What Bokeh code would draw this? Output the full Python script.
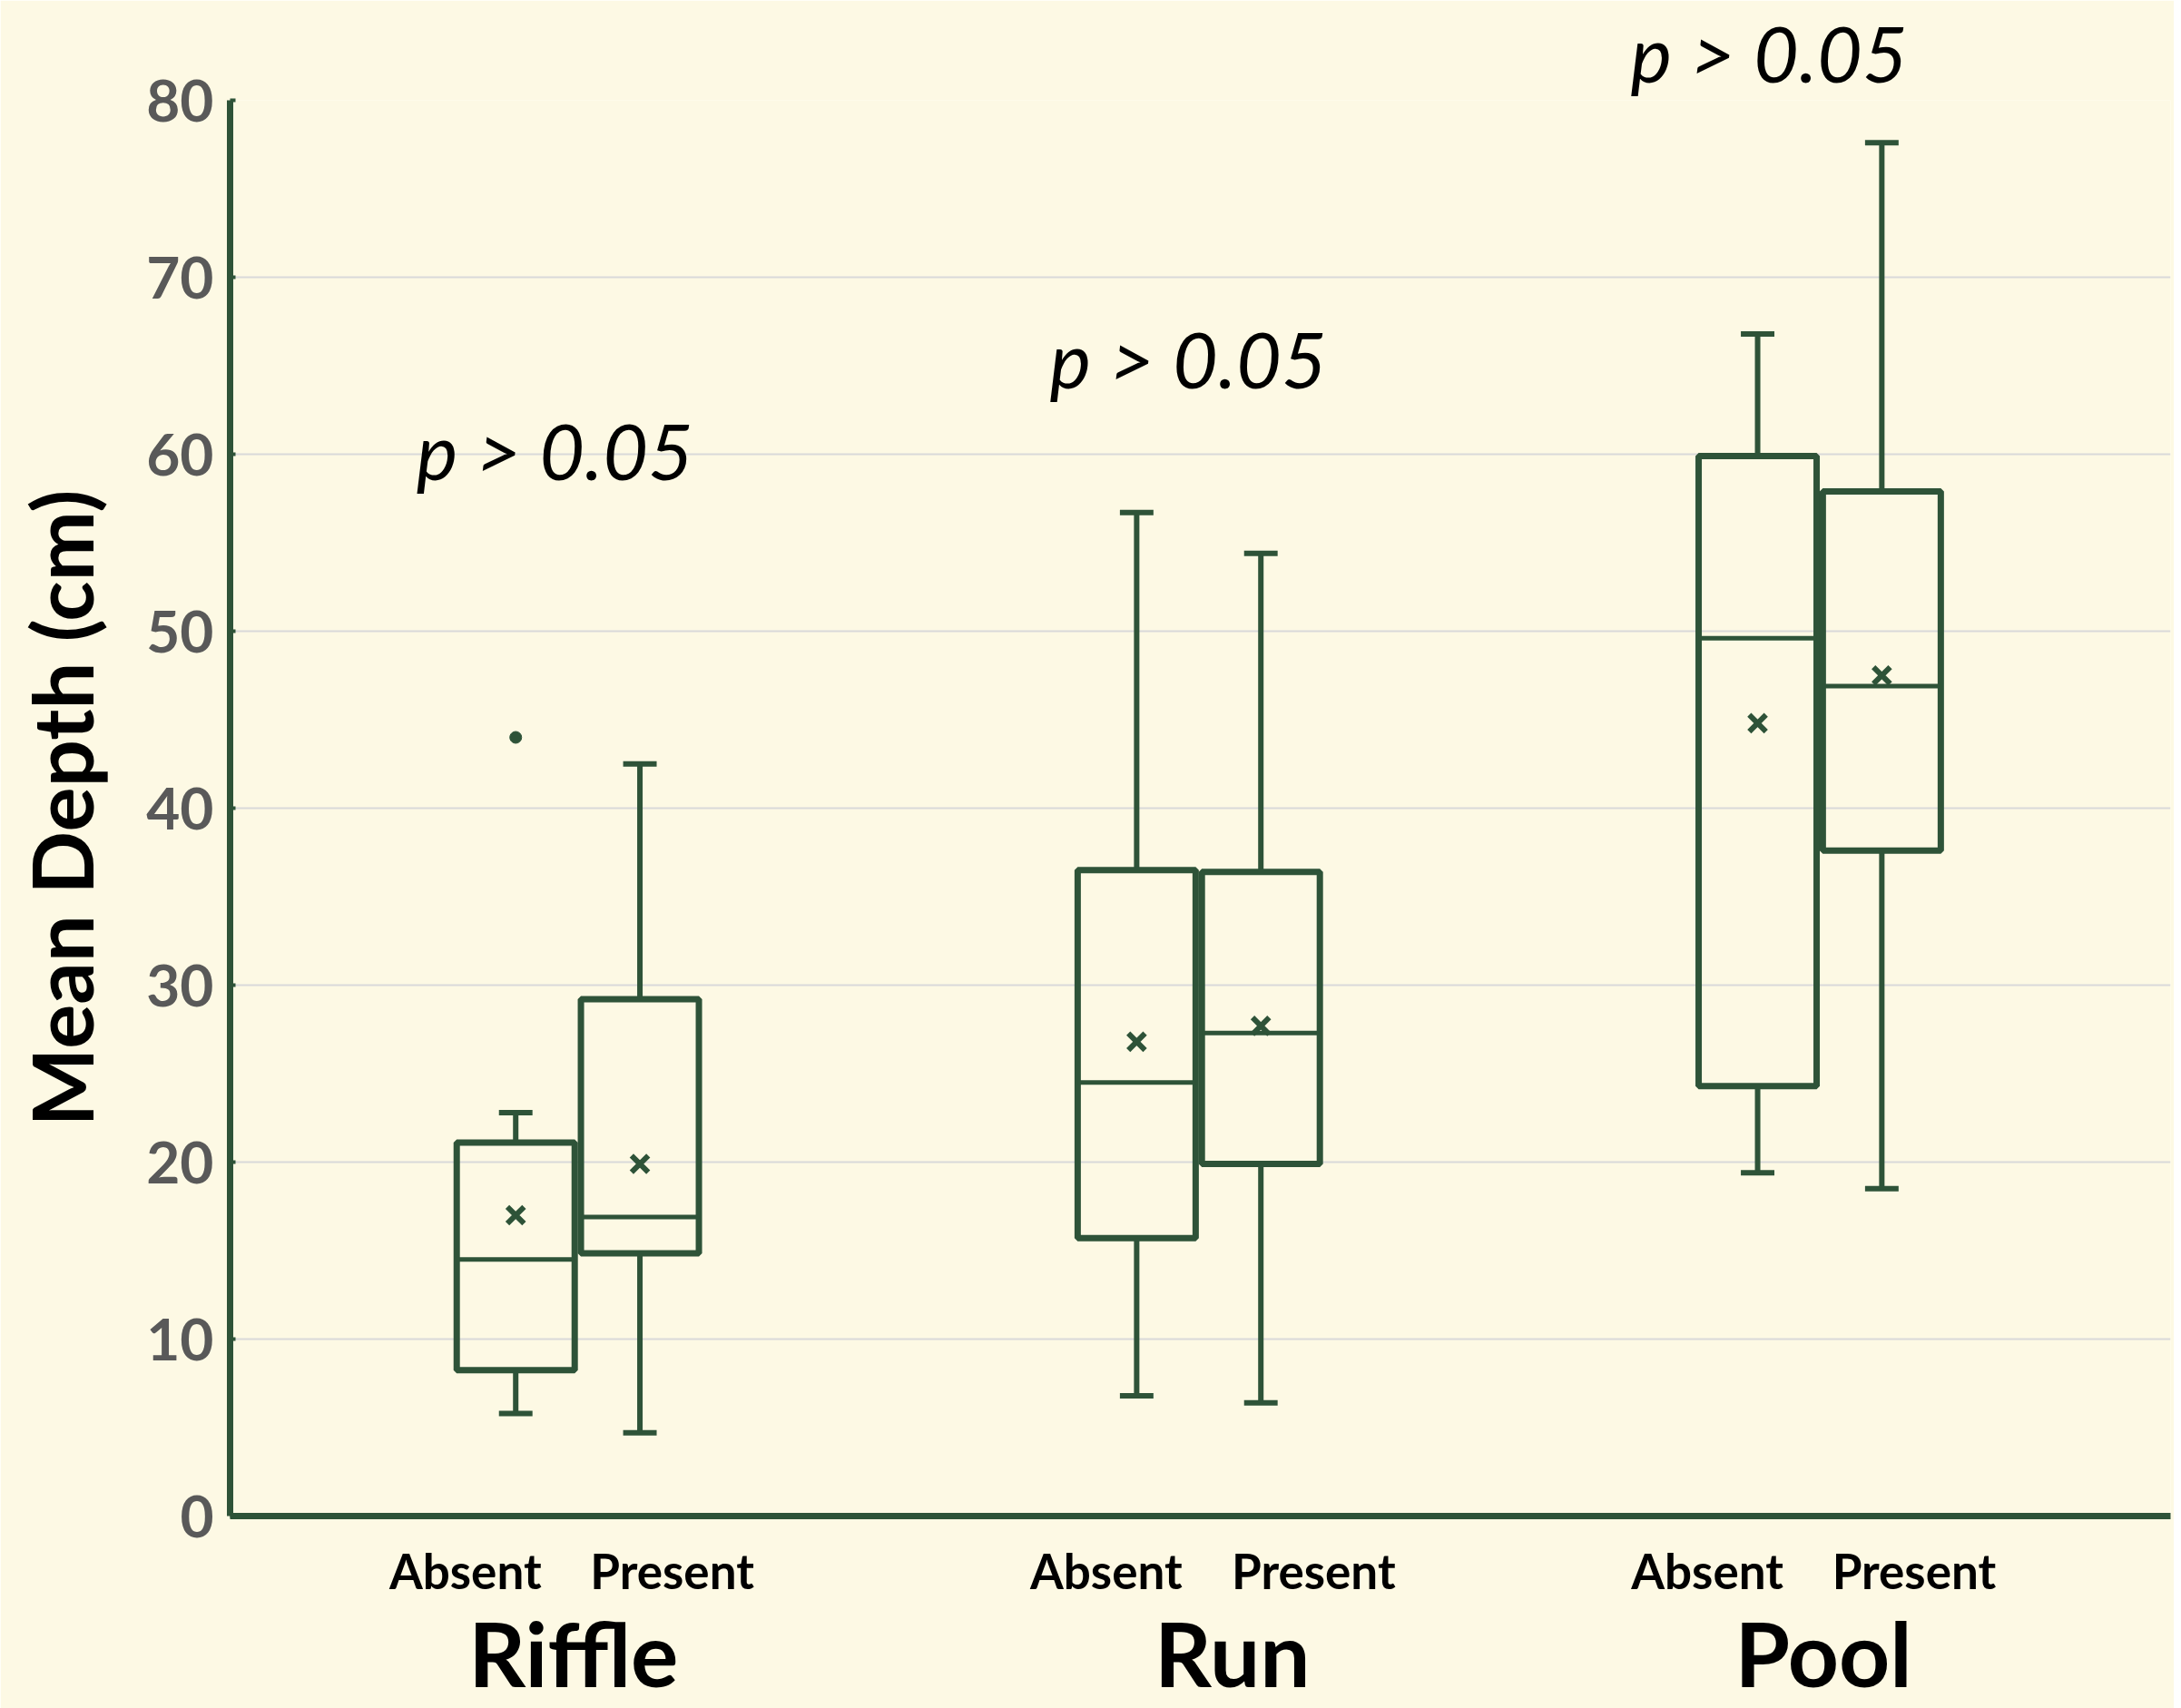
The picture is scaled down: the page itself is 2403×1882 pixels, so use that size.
from bokeh.plotting import figure
from bokeh.models import FixedTicker, LinearAxis, Range1d, Label, Title
from bokeh.embed import file_html
from bokeh.resources import INLINE

# ---- data ----
habitats = ["Riffle", "Run", "Pool"]
groups = ["Absent", "Present"]
lower_whisker = [5.8, 4.7, 6.8, 6.4, 19.4, 18.5]
q1 = [8.25, 14.85, 15.7, 19.9, 24.3, 37.6]
median = [14.5, 16.9, 24.5, 27.3, 49.6, 46.9]
q3 = [21.1, 29.2, 36.5, 36.4, 59.9, 57.9]
upper_whisker = [22.8, 42.5, 56.7, 54.4, 66.8, 77.6]
mean = [17.0, 19.9, 26.8, 27.7, 44.8, 47.5]
outlier_box = [0]          # index of box with an outlier
outlier_value = [44.0]
p_labels = ["p > 0.05", "p > 0.05", "p > 0.05"]
y_ticks = [0, 10, 20, 30, 40, 50, 60, 70, 80]

# ---- layout / annotation positions ----
GREEN = "#2E5338"
BG = "#FDF9E4"
offset = 0.1
box_w = 0.19
cap_w = 0.054
sub_label_pos = [-0.181, 0.152, 0.851, 1.185, 1.819, 2.152]
group_label_pos = [-0.007, 1.054, 2.006]
p_x = [-0.037, 0.983]
p_y = [60.25, 65.45]
pool_p_offset_px = 1543   # Pool p-value sits above the plotting area

xs = [h + s * offset for h in range(len(habitats)) for s in (-1, 1)]

p = figure(width=2395, height=1882, output_backend="svg", toolbar_location=None,
           x_range=Range1d(-0.56, 2.565), y_range=Range1d(0, 80),
           min_border_left=253, min_border_right=4, min_border_top=110, min_border_bottom=212,
           x_axis_location=None, y_axis_location=None)
p.background_fill_color = BG
p.border_fill_color = BG
p.outline_line_color = None
p.xgrid.visible = False

# p-value for Pool (above the plotting area)
p.add_layout(Title(text=p_labels[2], align="left", offset=pool_p_offset_px,
                   text_font="Lato", text_font_style="italic", text_font_size="86px",
                   text_color="black", standoff=3), "above")

# y axis
yax = LinearAxis(ticker=FixedTicker(ticks=y_ticks), bounds=(0, 80))
yax.axis_line_color = GREEN
yax.axis_line_width = 7
yax.major_tick_line_color = GREEN
yax.major_tick_line_width = 4
yax.major_tick_in = 6
yax.major_tick_out = 0
yax.minor_tick_line_color = None
yax.major_label_text_font = "Lato"
yax.major_label_text_font_style = "bold"
yax.major_label_text_font_size = "64px"
yax.major_label_text_color = "#595959"
yax.major_label_standoff = 18
yax.axis_label = "Mean Depth (cm)"
yax.axis_label_text_font = "Lato"
yax.axis_label_text_font_style = "bold"
yax.axis_label_text_font_size = "92px"
yax.axis_label_text_color = "black"
yax.axis_label_standoff = 35
p.add_layout(yax, "left")
p.ygrid.ticker = FixedTicker(ticks=y_ticks[1:])
p.ygrid.grid_line_color = "#D9D9D9"
p.ygrid.grid_line_width = 2

# x axis with Absent / Present labels
xax = LinearAxis(ticker=FixedTicker(ticks=sub_label_pos),
                 major_label_overrides={t: groups[i % 2] for i, t in enumerate(sub_label_pos)})
xax.axis_line_color = GREEN
xax.axis_line_width = 7
xax.major_tick_line_color = None
xax.minor_tick_line_color = None
xax.major_label_text_font = "Lato"
xax.major_label_text_font_style = "bold"
xax.major_label_text_font_size = "53px"
xax.major_label_text_color = "black"
xax.major_label_standoff = 22
p.add_layout(xax, "below")

# second axis: habitat names
hax = LinearAxis(ticker=FixedTicker(ticks=group_label_pos),
                 major_label_overrides={t: h for t, h in zip(group_label_pos, habitats)})
hax.axis_line_color = None
hax.major_tick_line_color = None
hax.minor_tick_line_color = None
hax.major_label_text_font = "Lato"
hax.major_label_text_font_style = "bold"
hax.major_label_text_font_size = "98px"
hax.major_label_text_color = "black"
hax.major_label_standoff = -9
p.add_layout(hax, "below")

# whiskers
p.segment(x0=xs, y0=q3, x1=xs, y1=upper_whisker, line_color=GREEN, line_width=6)
p.segment(x0=xs, y0=q1, x1=xs, y1=lower_whisker, line_color=GREEN, line_width=6)
p.segment(x0=[x - cap_w / 2 for x in xs], y0=upper_whisker,
          x1=[x + cap_w / 2 for x in xs], y1=upper_whisker, line_color=GREEN, line_width=6)
p.segment(x0=[x - cap_w / 2 for x in xs], y0=lower_whisker,
          x1=[x + cap_w / 2 for x in xs], y1=lower_whisker, line_color=GREEN, line_width=6)
# boxes
p.vbar(x=xs, bottom=q1, top=q3, width=box_w, fill_color=None,
       line_color=GREEN, line_width=7)
# medians
p.segment(x0=[x - box_w / 2 for x in xs], y0=median,
          x1=[x + box_w / 2 for x in xs], y1=median, line_color=GREEN, line_width=5)
# means
p.scatter(x=xs, y=mean, marker="x", size=26, line_color=GREEN, line_width=6)
# outliers
p.scatter(x=[xs[i] for i in outlier_box], y=outlier_value, marker="circle", size=13,
          fill_color=GREEN, line_color=GREEN)

# p-value annotations (Riffle, Run)
for txt, lx, ly in zip(p_labels[:2], p_x, p_y):
    p.add_layout(Label(x=lx, y=ly, text=txt, text_font="Lato", text_font_style="italic",
                       text_font_size="86px", text_color="black", text_align="center",
                       text_baseline="alphabetic"))

open("out.html", "w").write(file_html(p, INLINE))
